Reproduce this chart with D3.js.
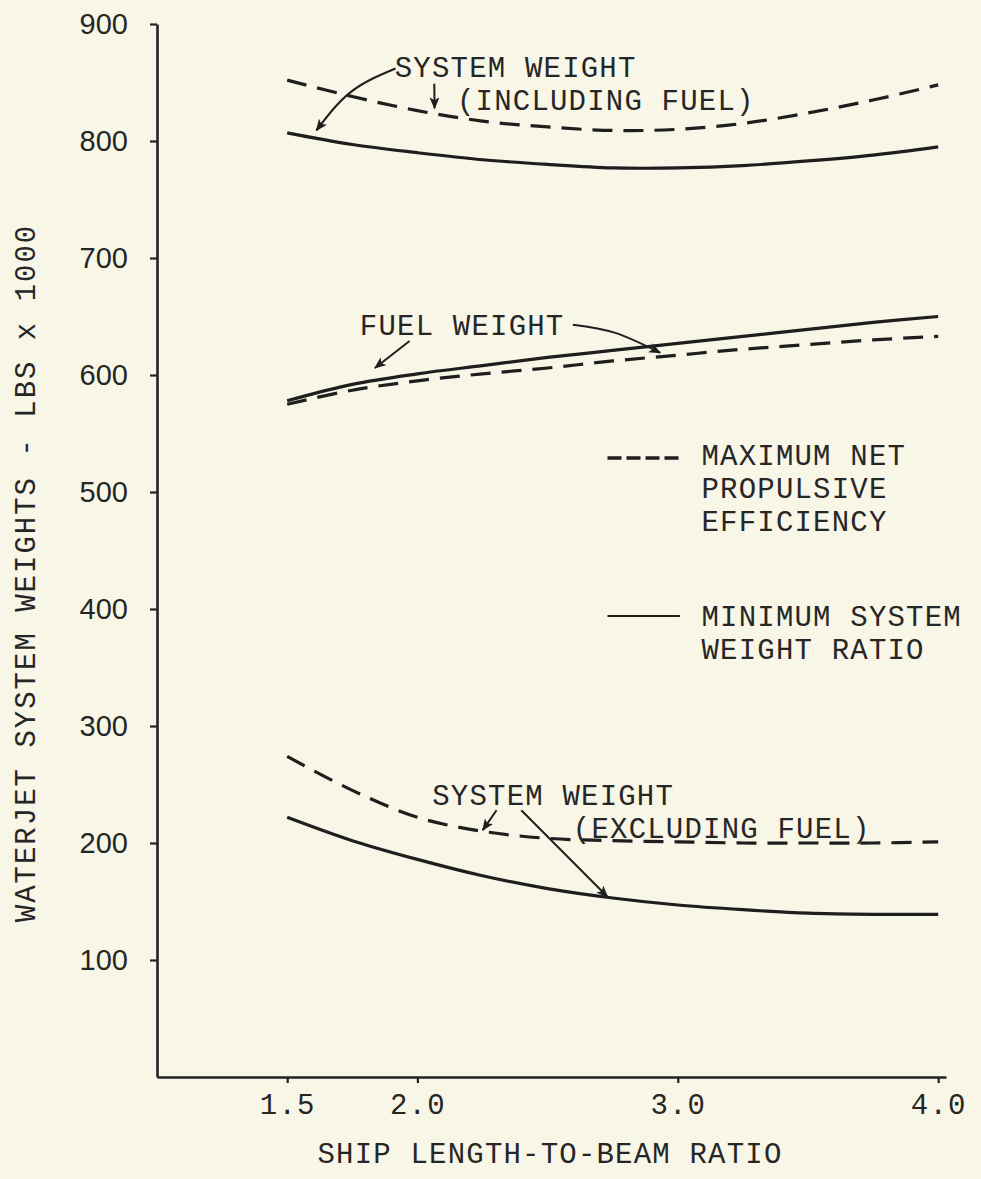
<!DOCTYPE html>
<html>
<head>
<meta charset="utf-8">
<script src="https://cdn.jsdelivr.net/npm/d3@7/dist/d3.min.js"></script>
<style>
  body { margin: 0; background: #f8f6e7; }
  svg text { fill: #262626; }
  .tw { font-family: "Liberation Mono", "DejaVu Sans Mono", monospace; font-size: 29px; letter-spacing: 1.2px; }
</style>
</head>
<body>
<div id="root"></div>
<script>
// ship length-to-beam ratio
var lbRatio = [1.5, 1.75, 2.0, 2.25, 2.5, 2.75, 3.0, 3.25, 3.5, 3.75, 4.0]
// weights, lbs x 1000
var sysInclMaxNPE = [852, 838, 826, 817, 812, 809, 810, 815, 824, 835, 848]
var sysInclMinSWR = [807, 797, 790, 784, 780, 777, 777, 779, 783, 788, 795]
var fuelMaxNPE = [575, 587, 595, 601, 606, 612, 617, 622, 626, 630, 633]
var fuelMinSWR = [578, 592, 601, 608, 615, 621, 627, 633, 639, 645, 650]
var sysExclMaxNPE = [274, 245, 222, 210, 204, 202, 201, 200, 200, 200, 201]
var sysExclMinSWR = [222, 202, 186, 172, 161, 153, 147, 143, 140, 139, 139]

var yTicks = [100, 200, 300, 400, 500, 600, 700, 800, 900]
var xTicks = [1.5, 2.0, 3.0, 4.0]

window.onload = function () {
    var width = 981
    var height = 1179
    var svg = d3.select('#root').append('svg')
        .attr('width', width)
        .attr('height', height)

    var x = d3.scaleLinear().domain([1.0, 4.03]).range([157, 946])
    var y = d3.scaleLinear().domain([0, 900]).range([1077, 24])

    // axes
    var yAxis = svg.append('g')
        .attr('transform', 'translate(157,0)')
        .call(d3.axisLeft(y).tickValues(yTicks).tickSize(7).tickSizeOuter(0).tickPadding(22))
    yAxis.selectAll('text')
        .style('font-family', '"Liberation Sans", Lato, sans-serif')
        .style('font-size', '29px')
    var xAxis = svg.append('g')
        .attr('transform', 'translate(0,' + y(0) + ')')
        .call(d3.axisBottom(x).tickValues(xTicks).tickSize(6).tickSizeOuter(0).tickPadding(10)
            .tickFormat(d3.format('.1f')))
    xAxis.selectAll('text').attr('class', 'tw')
    svg.selectAll('.domain').attr('stroke', '#222').attr('stroke-width', 2.6)
    svg.selectAll('.tick line').attr('stroke', '#222').attr('stroke-width', 2.2)

    // axis titles
    svg.append('text').attr('class', 'tw')
        .attr('transform', 'translate(35,' + 573 + ') rotate(-90)')
        .attr('text-anchor', 'middle')
        .style('letter-spacing', '2px')
        .text('WATERJET SYSTEM WEIGHTS - LBS x 1000')
    svg.append('text').attr('class', 'tw')
        .attr('x', 550).attr('y', 1163)
        .attr('text-anchor', 'middle')
        .text('SHIP LENGTH-TO-BEAM RATIO')

    // curves
    var series = [
        { v: sysInclMaxNPE, dash: '20,11' },
        { v: sysInclMinSWR, dash: null },
        { v: fuelMaxNPE, dash: '20,11' },
        { v: fuelMinSWR, dash: null },
        { v: sysExclMaxNPE, dash: '20,11' },
        { v: sysExclMinSWR, dash: null }
    ]
    var line = d3.line()
        .curve(d3.curveCatmullRom)
        .x(function (d, i) { return x(lbRatio[i]) })
        .y(function (d) { return y(d) })
    svg.append('g').selectAll('path')
        .data(series)
        .enter()
        .append('path')
        .attr('fill', 'none')
        .attr('stroke', '#1e1e1e')
        .attr('stroke-width', 3.2)
        .attr('stroke-dasharray', function (d) { return d.dash })
        .attr('d', function (d) { return line(d.v) })

    // arrow heads
    svg.append('defs').append('marker')
        .attr('id', 'head')
        .attr('viewBox', '0 0 12 10')
        .attr('refX', 11).attr('refY', 5)
        .attr('markerWidth', 12).attr('markerHeight', 10)
        .attr('markerUnits', 'userSpaceOnUse')
        .attr('orient', 'auto')
        .append('path')
        .attr('d', 'M0,0 L12,5 L0,10 L3,5 z')
        .attr('fill', '#1e1e1e')

    // annotations (positions in chart units)
    var labels = [
        { t: 'SYSTEM WEIGHT', at: [1.913, 855] },
        { t: '(INCLUDING FUEL)', at: [2.152, 826.5] },
        { t: 'FUEL WEIGHT', at: [1.779, 634] },
        { t: 'MAXIMUM NET', at: [3.091, 523] },
        { t: 'PROPULSIVE', at: [3.091, 495] },
        { t: 'EFFICIENCY', at: [3.091, 467] },
        { t: 'MINIMUM SYSTEM', at: [3.091, 385.5] },
        { t: 'WEIGHT RATIO', at: [3.091, 357.5] },
        { t: 'SYSTEM WEIGHT', at: [2.057, 232.5] },
        { t: '(EXCLUDING FUEL)', at: [2.597, 204] }
    ]
    svg.append('g').selectAll('text')
        .data(labels)
        .enter()
        .append('text')
        .attr('class', 'tw')
        .attr('x', function (d) { return x(d.at[0]) })
        .attr('y', function (d) { return y(d.at[1]) })
        .text(function (d) { return d.t })

    var arrows = [
        [[1.916, 862], [1.745, 842], [1.612, 809]],
        [[2.065, 849], [2.066, 828]],
        [[1.970, 629], [1.837, 606]],
        [[2.597, 643], [2.760, 636], [2.932, 619]],
        [[2.304, 228], [2.251, 211]],
        [[2.399, 228], [2.730, 154]]
    ]
    var arrowLine = d3.line()
        .curve(d3.curveNatural)
        .x(function (d) { return x(d[0]) })
        .y(function (d) { return y(d[1]) })
    svg.append('g').selectAll('path')
        .data(arrows)
        .enter()
        .append('path')
        .attr('fill', 'none')
        .attr('stroke', '#1e1e1e')
        .attr('stroke-width', 2)
        .attr('marker-end', 'url(#head)')
        .attr('d', arrowLine)

    // legend keys
    var keys = [
        { from: 2.73, to: 3.008, val: 529, dash: '14,5' },
        { from: 2.73, to: 3.008, val: 394, dash: null }
    ]
    svg.append('g').selectAll('line')
        .data(keys)
        .enter()
        .append('line')
        .attr('x1', function (d) { return x(d.from) })
        .attr('x2', function (d) { return x(d.to) })
        .attr('y1', function (d) { return y(d.val) })
        .attr('y2', function (d) { return y(d.val) })
        .attr('stroke', '#1e1e1e')
        .attr('stroke-width', function (d) { return d.dash ? 3.5 : 2.2 })
        .attr('stroke-dasharray', function (d) { return d.dash })
}
</script>
</body>
</html>
